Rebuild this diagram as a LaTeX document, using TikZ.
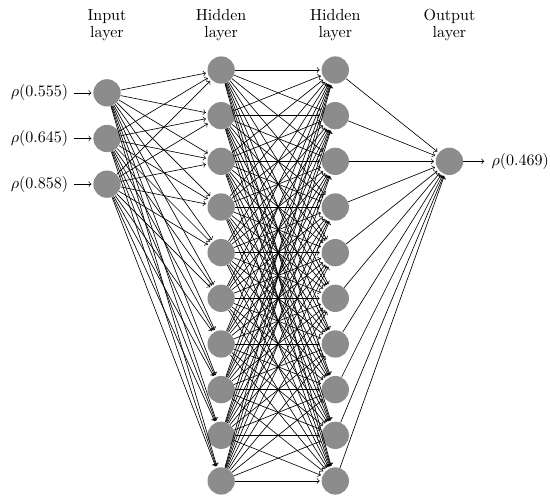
\documentclass[tikz,border=0pt]{standalone}
\usepackage{amsmath, amssymb}
\usepackage{tikz}
\usetikzlibrary{positioning}

\begin{document}
\begin{tikzpicture}[
    neuron/.style={circle, fill=black!45, minimum size=17pt, inner sep=0pt},
    layertitle/.style={align=center},
    link/.style={->, shorten >=1pt}
  ]
          % --- 1. 定義層距與畫布 ---
          \def\layersep{2.5}
          \useasboundingbox (-2.343,1.533) rectangle (9.702,-9.439);

          % --- 2. 輸入層 I-1, I-2, I-3 ---
          \foreach \i in {1,2,3}
            \node[neuron] (I-\i) at (0,{-\i+0.5}) {};

          % --- 3. 兩個隱藏層 H-1..H-10 與 G-1..G-10 ---
          \foreach \j in {1,...,10} {
            \node[neuron] (H-\j) at (\layersep,{-\j+1}) {};
            \node[neuron] (G-\j) at (2*\layersep,{-\j+1}) {};
          }

          % --- 4. 輸出層 O ---
          \node[neuron] (O) at (3*\layersep,-2) {};

          % --- 5. 各層之間全連接 ---
          \foreach \i in {1,2,3}
            \foreach \j in {1,...,10}
              \draw[link] (I-\i) -- (H-\j);
          \foreach \i in {1,...,10}
            \foreach \j in {1,...,10}
              \draw[link] (H-\i) -- (G-\j);
          \foreach \j in {1,...,10}
            \draw[link] (G-\j) -- (O);

          % --- 6. 輸入與輸出的值 ---
          \foreach \i/\v in {1/0.555, 2/0.645, 3/0.858} {
            \node[left=12pt of I-\i] (L-\i) {$\rho(\v)$};
            \draw[link] (L-\i) -- (I-\i);
          }
          \node[right=14pt of O] (R) {$\rho(0.469)$};
          \draw[link] (O) -- (R);

          % --- 7. 各層標題 ---
          \node[layertitle] (T-I) at (0,0.98) {Input\\[-1.6pt]layer};
          \node[layertitle] (T-H) at (\layersep,0.98) {Hidden\\[-1.6pt]layer};
          \node[layertitle] (T-G) at (2*\layersep,0.98) {Hidden\\[-1.6pt]layer};
          \node[layertitle] (T-O) at (3*\layersep,0.98) {Output\\[-1.6pt]layer};

      \end{tikzpicture}
\end{document}
